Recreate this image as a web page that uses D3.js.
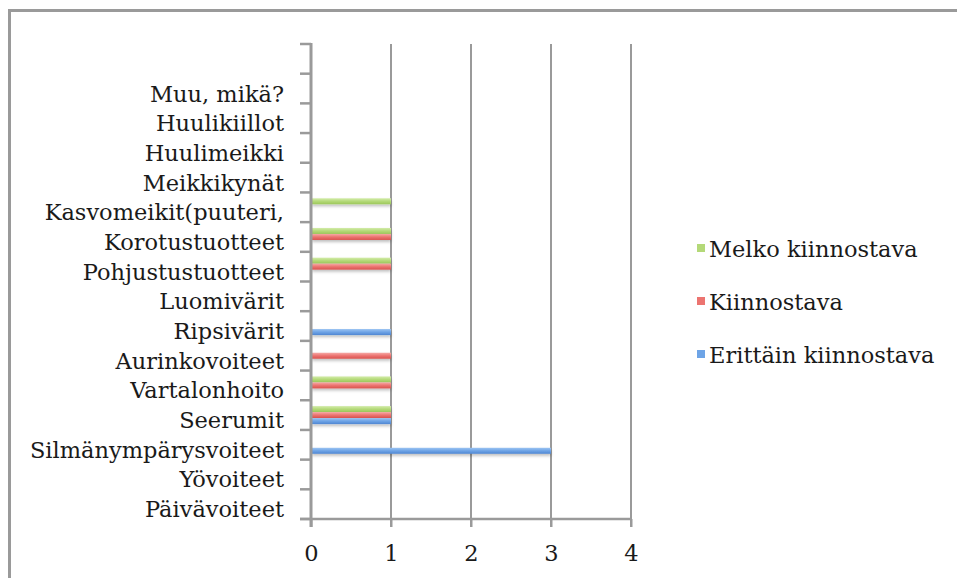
<!DOCTYPE html>
<html>
<head>
<meta charset="utf-8">
<script src="https://cdn.jsdelivr.net/npm/d3@7"></script>
<style>
  html, body { margin: 0; padding: 0; background: #ffffff; }
  svg { display: block; }
  text { font-family: "DejaVu Serif", serif; fill: #1a1a1a; }
</style>
</head>
<body>
<script>
// Product categories, bottom to top (last slot is an unlabelled spare row)
const categories = [
  "Päivävoiteet", "Yövoiteet", "Silmänympärysvoiteet", "Seerumit",
  "Vartalonhoito", "Aurinkovoiteet", "Ripsivärit", "Luomivärit",
  "Pohjustustuotteet", "Korotustuotteet", "Kasvomeikit(puuteri,",
  "Meikkikynät", "Huulimeikki", "Huulikiillot", "Muu, mikä?", ""
];

// Series names, in legend order (top to bottom)
const seriesNames = ["Melko kiinnostava", "Kiinnostava", "Erittäin kiinnostava"];

// Answer counts per category
const melkoKiinnostava    = [0, 0, 0, 1, 1, 0, 0, 0, 1, 1, 1, 0, 0, 0, 0, 0];
const kiinnostava         = [0, 0, 0, 1, 1, 1, 0, 0, 1, 1, 0, 0, 0, 0, 0, 0];
const erittainKiinnostava = [0, 0, 3, 1, 0, 0, 1, 0, 0, 0, 0, 0, 0, 0, 0, 0];

const xTicks = [0, 1, 2, 3, 4];

const W = 957, H = 578;
const plot = { left: 311, right: 631, top: 44, bottom: 519 };

const seriesValues = [melkoKiinnostava, kiinnostava, erittainKiinnostava];
const seriesColors = [
  ["#d3ecaa", "#b4d978", "#9cc75a"],
  ["#f6a9a6", "#ec7470", "#d9524e"],
  ["#9cc4f2", "#6ea4e6", "#4f86d2"]
];

const svg = d3.select("body").append("svg")
  .attr("width", W).attr("height", H);

const defs = svg.append("defs");
seriesColors.forEach((c, i) => {
  const g = defs.append("linearGradient")
    .attr("id", "grad" + i)
    .attr("x1", 0).attr("y1", 0).attr("x2", 0).attr("y2", 1);
  g.append("stop").attr("offset", "0%").attr("stop-color", c[0]);
  g.append("stop").attr("offset", "50%").attr("stop-color", c[1]);
  g.append("stop").attr("offset", "100%").attr("stop-color", c[2]);
});
const shadow = defs.append("filter").attr("id", "barShadow")
  .attr("x", "-5%").attr("y", "-50%").attr("width", "110%").attr("height", "250%");
shadow.append("feDropShadow")
  .attr("dx", 0).attr("dy", 2).attr("stdDeviation", 1.4)
  .attr("flood-color", "#000").attr("flood-opacity", 0.25);

// Outer frame (left and top edges visible)
const frame = svg.append("g").attr("stroke", "#9a9a9a").attr("stroke-width", 3).attr("fill", "none");
frame.append("line").attr("x1", 9.5).attr("x2", 9.5).attr("y1", 9).attr("y2", H);
frame.append("line").attr("x1", 8).attr("x2", W).attr("y1", 10.5).attr("y2", 10.5);

// Scales
const x = d3.scaleLinear().domain([0, 4]).range([plot.left, plot.right]);
const y = d3.scaleBand()
  .domain(categories.map((c, i) => i))
  .range([plot.bottom, plot.top])
  .padding(0);
const bw = y.bandwidth();
const ySub = d3.scaleBand()
  .domain(seriesNames)
  .range([bw / 2 - 9, bw / 2 + 9]);

// Vertical gridlines
svg.append("g").selectAll("line")
  .data(xTicks.filter(t => t > 0))
  .join("line")
  .attr("x1", d => x(d)).attr("x2", d => x(d))
  .attr("y1", plot.top).attr("y2", plot.bottom + 8)
  .attr("stroke", "#9a9a9a").attr("stroke-width", 2);

// Bars
seriesNames.forEach((name, si) => {
  svg.append("g")
    .attr("filter", "url(#barShadow)")
    .selectAll("rect")
    .data(seriesValues[si].map((v, i) => ({ v, i })).filter(d => d.v > 0))
    .join("rect")
    .attr("x", x(0) + 1)
    .attr("y", d => y(d.i) + ySub(name))
    .attr("width", d => x(d.v) - x(0) - 1)
    .attr("height", ySub.bandwidth())
    .attr("fill", `url(#grad${si})`);
});

// X axis
const xAxis = svg.append("g")
  .attr("transform", `translate(0,${plot.bottom})`)
  .call(d3.axisBottom(x).tickValues(xTicks).tickFormat(d3.format("d"))
    .tickSize(8).tickPadding(18).tickSizeOuter(0));
xAxis.select(".domain").remove();
xAxis.selectAll(".tick line").attr("stroke", "#9a9a9a").attr("stroke-width", 2);
xAxis.selectAll(".tick text")
  .attr("font-size", "22.5px")
  .attr("font-family", "DejaVu Serif, serif")
  .attr("fill", "#1a1a1a");
svg.append("line")
  .attr("x1", plot.left - 11).attr("x2", plot.right + 1)
  .attr("y1", plot.bottom).attr("y2", plot.bottom)
  .attr("stroke", "#9a9a9a").attr("stroke-width", 2.5);

// Y axis: ticks on band boundaries
const boundaries = d3.range(categories.length + 1).map(i =>
  i < categories.length ? y(i) + bw : plot.top);
svg.append("g").selectAll("line")
  .data(boundaries)
  .join("line")
  .attr("x1", plot.left - 11).attr("x2", plot.left)
  .attr("y1", d => d).attr("y2", d => d)
  .attr("stroke", "#9a9a9a").attr("stroke-width", 2.5);
svg.append("line")
  .attr("x1", plot.left).attr("x2", plot.left)
  .attr("y1", plot.top - 1).attr("y2", plot.bottom + 8)
  .attr("stroke", "#9a9a9a").attr("stroke-width", 3);

// Category labels
svg.append("g").selectAll("text")
  .data(categories)
  .join("text")
  .attr("x", 284)
  .attr("y", (d, i) => y(i) + bw / 2 + 13)
  .attr("text-anchor", "end")
  .attr("font-size", "22.5px")
  .text(d => d);

// Legend
const legend = svg.append("g");
const legendY = [249, 302, 355];
seriesNames.forEach((name, si) => {
  legend.append("rect")
    .attr("x", 697).attr("y", legendY[si] - 5)
    .attr("width", 8).attr("height", 8)
    .attr("fill", seriesColors[si][1]);
  legend.append("text")
    .attr("x", 709).attr("y", legendY[si] + 8)
    .attr("font-size", "22.5px")
    .text(name);
});
</script>
</body>
</html>
